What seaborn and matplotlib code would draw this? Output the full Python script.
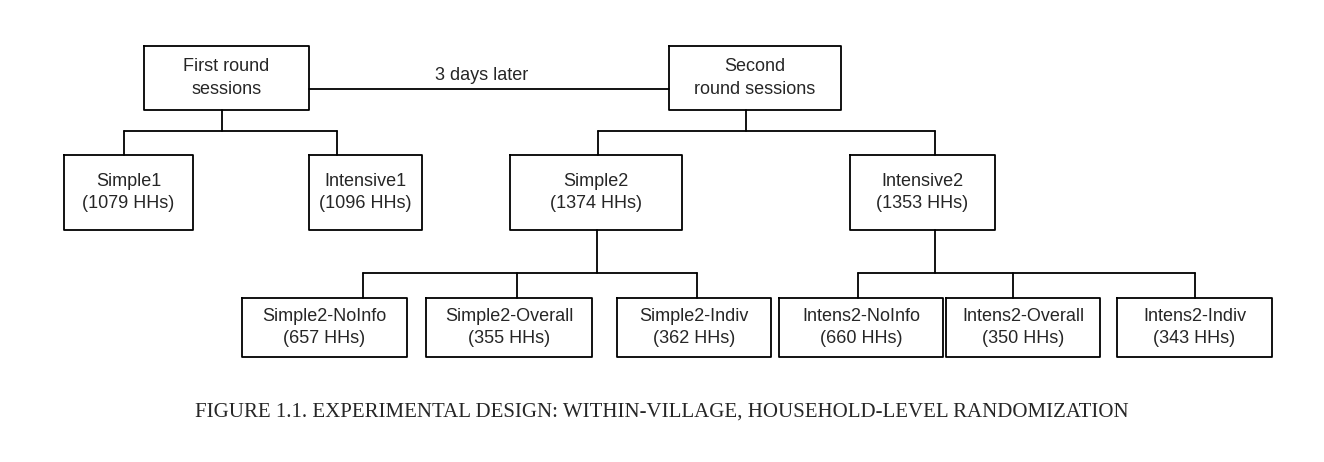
import matplotlib.pyplot as plt
import seaborn as sns

# box labels
top_labels = ["First round\nsessions", "Second\nround sessions"]
mid_labels = ["Simple1\n(1079 HHs)", "Intensive1\n(1096 HHs)",
              "Simple2\n(1374 HHs)", "Intensive2\n(1353 HHs)"]
low_labels = ["Simple2-NoInfo\n(657 HHs)", "Simple2-Overall\n(355 HHs)", "Simple2-Indiv\n(362 HHs)",
              "Intens2-NoInfo\n(660 HHs)", "Intens2-Overall\n(350 HHs)", "Intens2-Indiv\n(343 HHs)"]
link_label = "3 days later"
caption = "FIGURE 1.1. EXPERIMENTAL DESIGN: WITHIN-VILLAGE, HOUSEHOLD-LEVEL RANDOMIZATION"

# layout (pixel boxes: x0, x1, y0, y1)
top_boxes = [(144, 309, 46, 110), (669, 841, 46, 110)]
mid_boxes = [(64, 193, 155, 230), (309, 422, 155, 230), (510, 682, 155, 230), (850, 995, 155, 230)]
low_boxes = [(242, 407, 298, 357), (426, 592, 298, 357), (617, 771, 298, 357),
             (779, 943, 298, 357), (946, 1100, 298, 357), (1117, 1272, 298, 357)]

sns.set_theme(style="white")
plt.rcParams['font.family'] = ['Liberation Sans', 'DejaVu Sans']

fig = plt.figure(figsize=(13.24, 4.62), dpi=100)
ax = fig.add_axes([0, 0, 1, 1])
ax.set_xlim(0, 1324)
ax.set_ylim(462, 0)
ax.axis('off')

def box(b, label):
    x0, x1, y0, y1 = b
    ax.plot([x0, x1, x1, x0, x0], [y0, y0, y1, y1, y0], color='black', lw=1.3)
    ax.text((x0 + x1) / 2, (y0 + y1) / 2, label, ha='center', va='center',
            fontsize=13, linespacing=1.45)

def seg(xs, ys):
    ax.plot(xs, ys, color='black', lw=1.3)

def fork(xc, ytop, ymid, ybot, xs):
    seg([xc, xc], [ytop, ymid])
    seg([min(xs), max(xs)], [ymid, ymid])
    for x in xs:
        seg([x, x], [ymid, ybot])

for b, l in zip(top_boxes, top_labels):
    box(b, l)
for b, l in zip(mid_boxes, mid_labels):
    box(b, l)
for b, l in zip(low_boxes, low_labels):
    box(b, l)

seg([309, 669], [89, 89])
ax.text(482, 75, link_label, ha='center', va='center', fontsize=13)

fork(222, 110, 131, 155, [124, 337])
fork(746, 110, 131, 155, [598, 935])
fork(597, 230, 273, 298, [363, 517, 697])
fork(935, 230, 273, 298, [858, 1013, 1195])

ax.text(662, 412, caption, ha='center', va='center', fontsize=15,
        family=['Liberation Serif', 'DejaVu Serif'])

fig.savefig('out.png', dpi=100)
